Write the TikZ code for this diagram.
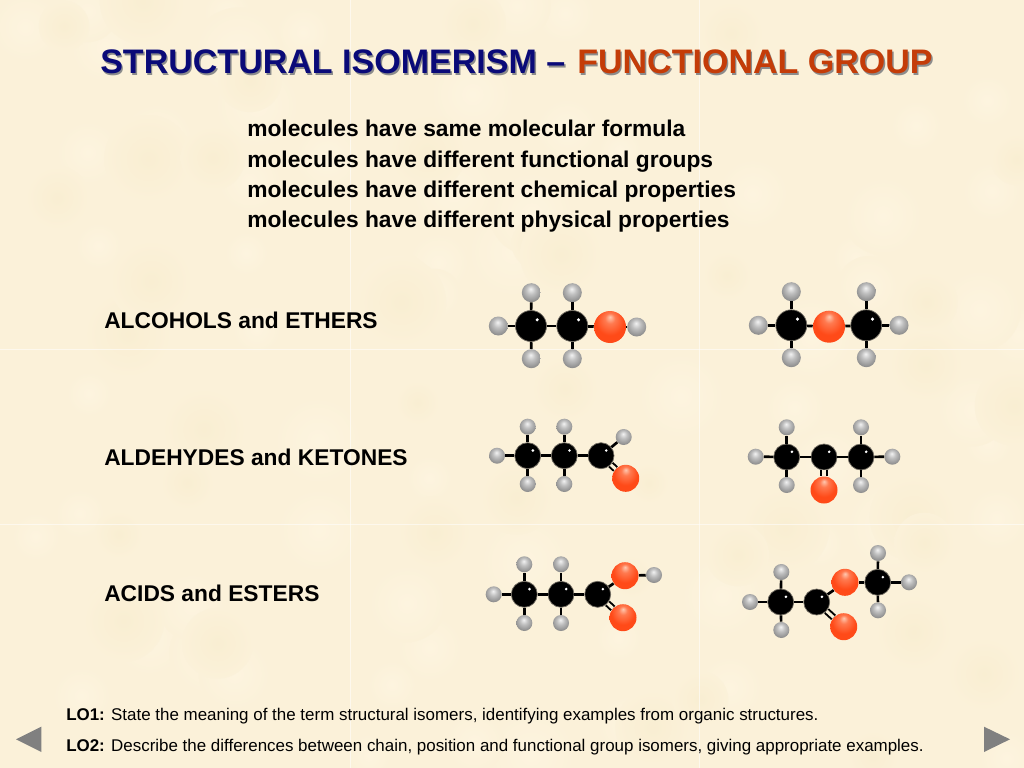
\documentclass[tikz,border=0pt]{standalone}
\usepackage{fontspec}
\setmainfont{Liberation Sans}
\usetikzlibrary{calc}
\definecolor{paper}{HTML}{FBF1D9}
\definecolor{paperlight}{HTML}{FDF4DF}
\definecolor{paperdark}{HTML}{F9EED2}
\definecolor{titleblue}{HTML}{0A0A78}
\definecolor{titlered}{HTML}{C43C08}
\definecolor{navgray}{HTML}{808080}
\definecolor{ohigh}{HTML}{FFC8B0}
\definecolor{omid}{HTML}{FF7A50}
\definecolor{obody}{HTML}{FF4A18}
\definecolor{oedge}{HTML}{F03A08}
\pgfdeclareradialshading{oball}{\pgfpoint{0bp}{16bp}}{color(0bp)=(ohigh);color(8bp)=(omid);color(22bp)=(obody);color(40bp)=(obody);color(50bp)=(oedge)}
\pgfdeclareradialshading{hball}{\pgfpoint{-2bp}{10bp}}{color(0bp)=(black!5);color(12bp)=(black!25);color(28bp)=(black!45);color(38bp)=(black!62);color(50bp)=(black!85)}
\tikzset{
	catom/.style={circle,fill=black,draw=black!55!paper,line width=0.5pt,inner sep=0,minimum size=#1*0.025cm,
		path picture={\fill[white] (path picture bounding box.center) ++(#1*0.2,-#1*0.2) circle (#1*0.055);}},
	hatom/.style={circle,shading=hball,inner sep=0,minimum size=#1*0.025cm},
	oatom/.style={circle,shading=oball,inner sep=0,minimum size=#1*0.025cm},
	bond/.style={line width=1.9pt,black},
	dbond/.style={line width=1.4pt,black,double=paper,double distance=2.2pt},
	bodytext/.style={anchor=base west,font=\fontsize{16.2}{18}\selectfont\bfseries,inner sep=0},
	lotext/.style={anchor=base west,font=\fontsize{12.05}{14}\selectfont,inner sep=0},
	navbtn/.style={fill=navgray,draw=none}
}
\newcommand{\shadowed}[1]{\rlap{\kern1pt\raisebox{-1pt}{\textcolor{black!45}{#1}}}#1}
\begin{document}
\begin{tikzpicture}[x=0.025cm,y=-0.025cm]
	%%%%% PAPER %%%%%
	\fill[paper] (0, 0) rectangle (1024, 768);
	\useasboundingbox (0, 0) rectangle (1024, 768);
	\pgfmathsetseed{42}
	\foreach \n in {1,...,70} {
		\pgfmathsetmacro{\bx}{1024*rnd}
		\pgfmathsetmacro{\by}{768*rnd}
		\pgfmathsetmacro{\br}{20+25*rnd}
		\shade[inner color=paperlight,outer color=paper] (\bx, \by) circle (\br);
	}
	\foreach \n in {1,...,40} {
		\pgfmathsetmacro{\bx}{1024*rnd}
		\pgfmathsetmacro{\by}{768*rnd}
		\pgfmathsetmacro{\br}{20+25*rnd}
		\shade[inner color=paperdark,outer color=paper] (\bx, \by) circle (\br);
	}
	\foreach \tx in {350, 699}
		\draw[white,opacity=0.55,line width=0.6pt] (\tx, 0) -- (\tx, 768);
	\foreach \ty in {349, 524}
		\draw[white,opacity=0.55,line width=0.6pt] (0, \ty) -- (1024, \ty);

	%%%%% TEXT %%%%%
	\node[anchor=base west,inner sep=0,font=\fontsize{24.2}{28}\selectfont\bfseries,text=titleblue] (titleleft) at (100, 74) {\shadowed{STRUCTURAL ISOMERISM –}};
	\node[anchor=base west,inner sep=0,font=\fontsize{24.2}{28}\selectfont\bfseries,text=titlered] (titleright) at (577, 74) {\shadowed{FUNCTIONAL GROUP}};

	\node[bodytext] (line1) at (247, 137) {molecules have same molecular formula};
	\node[bodytext] (line2) at (247, 167) {molecules have different functional groups};
	\node[bodytext] (line3) at (247, 197) {molecules have different chemical properties};
	\node[bodytext] (line4) at (247, 227) {molecules have different physical properties};

	\node[bodytext] (alcohols) at (104, 328) {ALCOHOLS and ETHERS};
	\node[bodytext] (aldehydes) at (104, 465) {ALDEHYDES and KETONES};
	\node[bodytext] (acids) at (104, 601) {ACIDS and ESTERS};

	\node[lotext] (lo1) at (66, 720) {\textbf{LO1:} State the meaning of the term structural isomers, identifying examples from organic structures.};
	\node[lotext] (lo2) at (66, 751) {\textbf{LO2:} Describe the differences between chain, position and functional group isomers, giving appropriate examples.};

	%%%%% ALCOHOL %%%%%
	\node[catom=31] (a1) at (531, 326) {};
	\node[catom=31] (a2) at (572.3, 326) {};
	\node[oatom=32] (ao) at (610, 327) {};
	\node[hatom=19] (ah1) at (498.3, 326) {};
	\node[hatom=19] (ah2) at (531.3, 292.7) {};
	\node[hatom=19] (ah3) at (531.3, 358.7) {};
	\node[hatom=19] (ah4) at (572.3, 292.7) {};
	\node[hatom=19] (ah5) at (572.3, 358.7) {};
	\node[hatom=19] (ah6) at (636.7, 327) {};
	\foreach \p/\q in {a1/a2, a2/ao, ao/ah6, a1/ah1, a1/ah2, a1/ah3, a2/ah4, a2/ah5}
		\draw[bond] (\p) -- (\q);

	%%%%% ETHER %%%%%
	\node[catom=31] (e1) at (791.3, 325.3) {};
	\node[oatom=32] (eo) at (829, 326.7) {};
	\node[catom=31] (e2) at (866.3, 325.3) {};
	\node[hatom=19] (eh1) at (758.3, 325.3) {};
	\node[hatom=19] (eh2) at (791.3, 291.7) {};
	\node[hatom=19] (eh3) at (791.3, 357.7) {};
	\node[hatom=19] (eh4) at (866.3, 291.7) {};
	\node[hatom=19] (eh5) at (866.3, 357.7) {};
	\node[hatom=19] (eh6) at (899, 325.3) {};
	\foreach \p/\q in {e1/eo, eo/e2, e1/eh1, e1/eh2, e1/eh3, e2/eh4, e2/eh5, e2/eh6}
		\draw[bond] (\p) -- (\q);

	%%%%% ALDEHYDE %%%%%
	\node[catom=26] (d1) at (527.7, 455.7) {};
	\node[catom=26] (d2) at (564.3, 455.7) {};
	\node[catom=26] (d3) at (601, 455.7) {};
	\node[oatom=27] (do) at (625.7, 478.3) {};
	\node[hatom=16] (dh1) at (497, 455.7) {};
	\node[hatom=16] (dh2) at (527.7, 426.7) {};
	\node[hatom=16] (dh3) at (527.7, 484) {};
	\node[hatom=16] (dh4) at (564.3, 426.7) {};
	\node[hatom=16] (dh5) at (564.3, 484) {};
	\node[hatom=16] (dh6) at (623.7, 437) {};
	\foreach \p/\q in {d1/d2, d2/d3, d1/dh1, d1/dh2, d1/dh3, d2/dh4, d2/dh5, d3/dh6}
		\draw[bond] (\p) -- (\q);
	\draw[dbond] (d3) -- (do);

	%%%%% KETONE %%%%%
	\node[catom=26] (k1) at (786.7, 457) {};
	\node[catom=26] (k2) at (824, 457) {};
	\node[catom=26] (k3) at (861, 457) {};
	\node[oatom=27] (ko) at (824, 490) {};
	\node[hatom=16] (kh1) at (755.7, 456.7) {};
	\node[hatom=16] (kh2) at (786.7, 427.3) {};
	\node[hatom=16] (kh3) at (786.7, 485) {};
	\node[hatom=16] (kh4) at (861, 427.3) {};
	\node[hatom=16] (kh5) at (861, 485) {};
	\node[hatom=16] (kh6) at (892.3, 456.7) {};
	\foreach \p/\q in {k1/k2, k2/k3, k1/kh1, k1/kh2, k1/kh3, k3/kh4, k3/kh5, k3/kh6}
		\draw[bond] (\p) -- (\q);
	\draw[dbond] (k2) -- (ko);

	%%%%% ACID %%%%%
	\node[catom=26] (c1) at (524.3, 594.3) {};
	\node[catom=26] (c2) at (561, 594.3) {};
	\node[catom=26] (c3) at (597.7, 594.3) {};
	\node[oatom=27] (co1) at (625, 575.7) {};
	\node[oatom=27] (co2) at (623, 617.7) {};
	\node[hatom=16] (ch1) at (493.7, 594.3) {};
	\node[hatom=16] (ch2) at (524.3, 564.3) {};
	\node[hatom=16] (ch3) at (524.3, 623) {};
	\node[hatom=16] (ch4) at (561, 564.3) {};
	\node[hatom=16] (ch5) at (561, 623) {};
	\node[hatom=16] (ch6) at (654, 575) {};
	\foreach \p/\q in {c1/c2, c2/c3, c3/co1, co1/ch6, c1/ch1, c1/ch2, c1/ch3, c2/ch4, c2/ch5}
		\draw[bond] (\p) -- (\q);
	\draw[dbond] (c3) -- (co2);

	%%%%% ESTER %%%%%
	\node[catom=26] (s1) at (780.7, 602) {};
	\node[catom=26] (s2) at (816.7, 602) {};
	\node[oatom=27] (so1) at (845, 582.3) {};
	\node[catom=26] (s3) at (877.7, 582.3) {};
	\node[oatom=27] (so2) at (843.7, 626.7) {};
	\node[hatom=16] (sh1) at (750, 602) {};
	\node[hatom=16] (sh2) at (781.3, 572) {};
	\node[hatom=16] (sh3) at (781.3, 630) {};
	\node[hatom=16] (sh4) at (878, 553) {};
	\node[hatom=16] (sh5) at (878, 610.3) {};
	\node[hatom=16] (sh6) at (909, 582.3) {};
	\foreach \p/\q in {s1/s2, s2/so1, so1/s3, s1/sh1, s1/sh2, s1/sh3, s3/sh4, s3/sh5, s3/sh6}
		\draw[bond] (\p) -- (\q);
	\draw[dbond] (s2) -- (so2);

	%%%%% BUTTONS %%%%%
	\fill[navbtn] (16, 739.3) -- (41.3, 726.7) -- (41.3, 752) -- cycle;
	\fill[navbtn] (1010, 739.3) -- (984, 726.7) -- (984, 752) -- cycle;
\end{tikzpicture}
\end{document}
